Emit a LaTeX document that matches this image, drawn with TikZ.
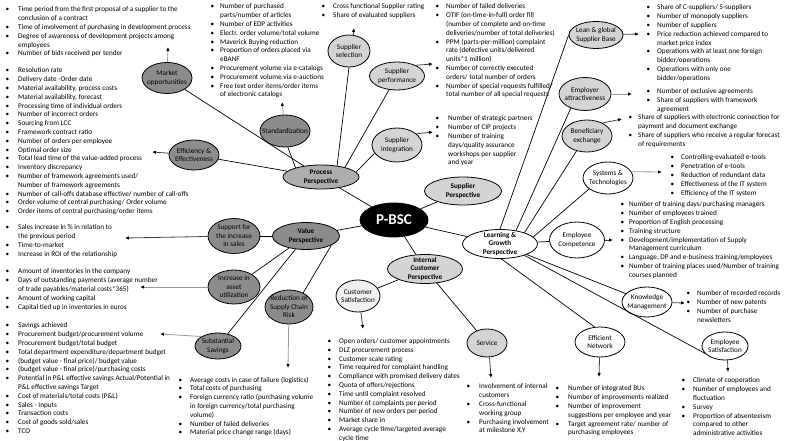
\documentclass[tikz,border=0pt]{standalone}
\usepackage{fontspec}
\setmainfont{Carlito}
\usetikzlibrary{shapes.geometric,arrows.meta}

\definecolor{bscdark}{gray}{0.55}
\definecolor{bscmid}{gray}{0.68}
\definecolor{bsclight}{gray}{0.83}
\definecolor{bscpale}{gray}{0.94}

\newlength{\kgap}
\newcommand{\kpi}{\makebox[\kgap][l]{\textbullet}}
\newcommand{\kcont}{\hspace*{\kgap}}

\tikzset{
    bub/.style 2 args={ellipse, draw, line width=0.8pt, inner sep=0pt, minimum width=#1pt, minimum height=#2pt},
    lbl/.style={align=center, inner sep=0pt, font=\fontsize{7.2}{8.5}\selectfont},
    lblb/.style={align=center, inner sep=0pt, font=\fontsize{7.2}{8.5}\selectfont\bfseries},
    conn/.style={line width=0.7pt},
    arr/.style={draw=black!75, line width=0.8pt, -{Latex[black,length=4pt,width=3.5pt]}},
    arrg/.style={arr, draw=black!40},
    kpis/.style={anchor=north west, align=left, inner sep=0pt, font=\fontsize{7.2}{8.8}\selectfont, execute at begin node={\global\kgap=#1\relax}},
    kpis/.default=12pt
}

\begin{document}
\begin{tikzpicture}[x=1pt, y=-1pt]
    \useasboundingbox (0,0) rectangle (789,441);

    \node[bub={50}{31}, fill=bscdark, label={[lbl]center:{Market\\opportunities}}] (mkt) at (167,78) {};
    \node[bub={50}{30}, fill=bscdark, label={[lbl]center:{Efficiency \&\\Effectiveness}}] (eff) at (194,155) {};
    \node[bub={50}{32}, fill=bscdark, label={[lbl]center:Standardization}] (std) at (285,131) {};
    \node[bub={42}{32}, fill=bsclight, label={[lbl]center:{Supplier\\selection}}] (ssel) at (349,51) {};
    \node[bub={55}{28}, fill=bsclight, label={[lbl]center:{Supplier\\performance}}] (sperf) at (397,76) {};
    \node[bub={50}{34}, fill=bsclight, label={[lbl]center:{Supplier\\integration}}] (sint) at (397,145) {};
    \node[bub={76}{24}, fill=bscmid, label={[lblb]center:{Process\\Perspective}}] (proc) at (321,177) {};
    \node[bub={68}{34}, fill=black, label={[lblb, text=white, font=\fontsize{15}{18}\selectfont\bfseries]center:P-BSC}] (pbsc) at (394,220) {};
    \node[bub={77}{28}, fill=bsclight, label={[lblb]center:{Supplier\\Perspective}}] (sper) at (463,191) {};
    \node[bub={67}{27}, fill=bscdark, label={[lblb]center:{Value\\Perspective}}] (val) at (306,236) {};
    \node[bub={52}{35}, fill=bscdark, label={[lbl]center:{Support for\\the increase\\in sales}}] (sup) at (234,236) {};
    \node[bub={52}{34}, fill=bscdark, label={[lbl]center:{Increase in\\asset\\utilization}}] (inc) at (234,287) {};
    \node[bub={48}{34}, fill=bscdark, label={[lbl]center:{Reduction of\\Supply Chain\\Risk}}] (red) at (289,307) {};
    \node[bub={46}{26}, fill=bscdark, label={[lbl]center:{Substantial\\Savings}}] (sav) at (218,346) {};
    \node[bub={75}{29}, fill=bsclight, label={[lblb]center:{Internal\\Customer\\Perspective}}] (icp) at (425,269) {};
    \node[bub={44}{32}, fill=bscpale, label={[lbl]center:{Customer\\Satisfaction}}] (cs) at (358,296) {};
    \node[bub={40}{28}, fill=bsclight, label={[lbl]center:Service}] (srv) at (487,343) {};
    \node[bub={75}{29}, fill=white, label={[lblb]center:{Learning \&\\Growth\\Perspective}}] (lg) at (500,244) {};
    \node[bub={54}{27}, fill=bsclight, label={[lbl]center:{Lean \& global\\Supplier Base}}] (lean) at (596,35) {};
    \node[bub={52}{33}, fill=bsclight, label={[lbl]center:{Employer\\attractiveness}}] (emp) at (585,94) {};
    \node[bub={50}{32}, fill=bsclight, label={[lbl]center:{Beneficiary\\exchange}}] (ben) at (587,136) {};
    \node[bub={50}{32}, fill=white, label={[lbl]center:{Systems \&\\Technologies}}] (sys) at (608,178) {};
    \node[bub={55}{36}, fill=white, label={[lbl]center:{Employee\\Competence}}] (ec) at (577,240) {};
    \node[bub={50}{30}, fill=white, label={[lbl]center:{Knowledge\\Management}}] (km) at (647,302) {};
    \node[bub={46}{28}, fill=white, label={[lbl]center:{Employee\\Satisfaction}}] (es) at (725,346) {};
    \node[bub={50}{30}, fill=white, label={[lbl]center:{Efficient\\Network}}] (en) at (600,342) {};

    \draw[conn] (proc) -- (mkt);
    \draw[conn] (proc) -- (eff);
    \draw[conn] (std.-80) -- (proc.160);
    \draw[conn] (ssel.-90) -- (proc.35);
    \draw[conn] (sperf.-120) -- (proc.22);
    \draw[conn] (sint.200) -- (proc.8);
    \draw[conn] (proc) -- (pbsc);
    \draw[conn] (pbsc) -- (sper);
    \draw[conn] (pbsc) -- (val);
    \draw[conn] (pbsc) -- (icp);
    \draw[conn] (pbsc) -- (lg);
    \draw[conn] (val) -- (sup);
    \draw[conn] (val) -- (inc);
    \draw[conn] (val) -- (sav);
    \draw[conn] (val.-20) -- (red.45);
    \draw[conn] (icp) -- (cs);
    \draw[conn] (icp) -- (srv);
    \draw[conn] (lg.north) -- (lean.west);
    \draw[conn] (lg.40) -- (emp.225);
    \draw[conn] (lg.25) -- (ben.235);
    \draw[conn] (lg.12) -- (sys.210);
    \draw[conn] (lg) -- (ec);
    \draw[conn] (lg) -- (km);
    \draw[conn] (lg.-25) -- (es.200);
    \draw[conn] (lg.-85) -- (en.110);

    \coordinate (mktT) at (168,47);
    \coordinate (effT) at (152,152);
    \coordinate (stdT) at (282,102);
    \coordinate (sselT) at (354,28);
    \coordinate (sperfT) at (433,64);
    \coordinate (sintT) at (433,132);
    \coordinate (supT) at (125,238);
    \coordinate (incT) at (140,287);
    \coordinate (savT) at (160,334);
    \coordinate (redT) at (288,368);
    \coordinate (csT) at (363,329);
    \coordinate (srvT) at (491,378);
    \coordinate (enT) at (599,377);
    \coordinate (esT) at (728,372);
    \coordinate (kmT) at (685,303);
    \coordinate (ecT) at (613,240);
    \coordinate (sysT) at (662,172);
    \coordinate (benT) at (622,119);
    \coordinate (empT) at (632,94);
    \coordinate (leanT) at (639,34);

    \draw[arrg] (mkt) -- (mktT);
    \draw[arr] (eff) -- (effT);
    \draw[arrg] (std) -- (stdT);
    \draw[arr] (ssel.75) -- (sselT);
    \draw[arr] (sperf.30) -- (sperfT);
    \draw[arr] (sint.30) -- (sintT);
    \draw[arr] (sup) -- (supT);
    \draw[arrg] (inc) -- (incT);
    \draw[arrg] (sav.150) -- (savT);
    \draw[arrg] (red) -- (redT);
    \draw[arr] (cs.-80) -- (csT);
    \draw[arr] (srv.-80) -- (srvT);
    \draw[arr] (en) -- (enT);
    \draw[arr] (es.-80) -- (esT);
    \draw[arr] (km) -- (kmT);
    \draw[arr] (ec) -- (ecT);
    \draw[arrg] (sys.15) -- (sysT);
    \draw[arr] (ben.40) -- (benT);
    \draw[arrg] (emp) -- (empT);
    \draw[arr] (lean) -- (leanT);

    \node[kpis=12.5pt] (mktL) at (5.5,6.7) {\kpi Time period from the first proposal of a supplier to the\\ \kcont conclusion of a contract\\ \kpi Time of involvement of purchasing in development process\\ \kpi Degree of awareness of development projects among\\ \kcont employees\\ \kpi Number of bids received per tender};
    \node[kpis=12.5pt] (effL) at (5.5,67.7) {\kpi Resolution rate\\ \kpi Delivery date -Order date\\ \kpi Material availability, process costs\\ \kpi Material availability, forecast\\ \kpi Processing time of individual orders\\ \kpi Number of incorrect orders\\ \kpi Sourcing from LCC\\ \kpi Framework contract ratio\\ \kpi Number of orders per employee\\ \kpi Optimal order size\\ \kpi Total lead time of the value-added process\\ \kpi Inventory discrepancy\\ \kpi Number of framework agreements used/\\ \kcont Number of framework agreements\\ \kpi Number of call-offs database effective/ number of call-offs\\ \kpi Order volume of central purchasing/ Order volume\\ \kpi Order items of central purchasing/order items};
    \node[kpis=12.5pt] (supL) at (5.5,224.7) {\kpi Sales increase in \% in relation to\\ \kcont the previous period\\ \kpi Time-to-market\\ \kpi Increase in ROI of the relationship};
    \node[kpis=12.5pt] (incL) at (5.5,268.7) {\kpi Amount of inventories in the company\\ \kpi Days of outstanding payments (average number\\ \kcont of trade payables/material costs*365)\\ \kpi Amount of working capital\\ \kpi Capital tied up in inventories in euros};
    \node[kpis=12.5pt] (savL) at (5.5,322.7) {\kpi Savings achieved\\ \kpi Procurement budget/procurement volume\\ \kpi Procurement budget/total budget\\ \kpi Total department expenditure/department budget\\ \kpi (budget value - final price)/ budget value\\ \kpi (budget value - final price)/purchasing costs\\ \kpi Potential in P\&L effective savings Actual/Potential in\\ \kcont P\&L effective savings Target\\ \kpi Cost of materials/total costs (P\&L)\\ \kpi Sales - Inputs\\ \kpi Transaction costs\\ \kpi Cost of goods sold/sales\\ \kpi TCO};
    \node[kpis=11.5pt] (redL) at (178.5,376.7) {\kpi Average costs in case of failure (logistics)\\ \kpi Total costs of purchasing\\ \kpi Foreign currency ratio (purchasing volume\\ \kcont in foreign currency/total purchasing\\ \kcont volume)\\ \kpi Number of failed deliveries\\ \kpi Material price change range (days)};
    \node[kpis=9.5pt] (stdL) at (210.5,3.7) {\kpi Number of purchased\\ \kcont parts/number of articles\\ \kpi Number of EDP activities\\ \kpi Electr. order volume/total volume\\ \kpi Maverick Buying reduction\\ \kpi Proportion of orders placed via\\ \kcont eBANF\\ \kpi Procurement volume via e-catalogs\\ \kpi Procurement volume via e-auctions\\ \kpi Free text order items/order items\\ \kcont of electronic catalogs};
    \node[kpis=11.5pt] (sselL) at (321.5,3.7) {\kpi Cross functional Supplier rating\\ \kpi Share of evaluated suppliers};
    \node[kpis=10.5pt] (sperfL) at (435.5,3.7) {\kpi Number of failed deliveries\\ \kpi OTIF (on-time-in-full) order fill\\ \kcont (number of complete and on-time\\ \kcont deliveries/number of total deliveries)\\ \kpi PPM (parts-per-million) complaint\\ \kcont rate (defective units/delivered\\ \kcont units*1 million)\\ \kpi Number of correctly executed\\ \kcont orders/ total number of orders\\ \kpi Number of special requests fulfilled/\\ \kcont total number of all special requests};
    \node[kpis=12.5pt] (sintL) at (435.5,115.7) {\kpi Number of strategic partners\\ \kpi Number of CIP projects\\ \kpi Number of training\\ \kcont days/quality assurance\\ \kcont workshops per supplier\\ \kcont and year};
    \node[kpis=11.5pt] (csL) at (327.5,338.2) {\kpi Open orders/ customer appointments\\ \kpi DLZ procurement process\\ \kpi Customer scale rating\\ \kpi Time required for complaint handling\\ \kpi Compliance with promised delivery dates\\ \kpi Quota of offers/rejections\\ \kpi Time until complaint resolved\\ \kpi Number of complaints per period\\ \kpi Number of new orders per period\\ \kpi Market share in\\ \kpi Average cycle time/targeted average\\ \kcont cycle time};
    \node[kpis=12.5pt] (srvL) at (466.5,383.7) {\kpi Involvement of internal\\ \kcont customers\\ \kpi Cross-functional\\ \kcont working group\\ \kpi Purchasing involvement\\ \kcont at milestone X,Y};
    \node[kpis=12.5pt] (enL) at (555.5,385.7) {\kpi Number of integrated BUs\\ \kpi Number of improvements realized\\ \kpi Number of improvement\\ \kcont suggestions per employee and year\\ \kpi Target agreement rate/ number of\\ \kcont purchasing employees};
    \node[kpis=11.5pt] (esL) at (681.5,377.7) {\kpi Climate of cooperation\\ \kpi Number of employees and\\ \kcont fluctuation\\ \kpi Survey\\ \kpi Proportion of absenteeism\\ \kcont compared to other\\ \kcont administrative activities};
    \node[kpis=10.5pt] (kmL) at (686.5,290.7) {\kpi Number of recorded records\\ \kpi Number of new patents\\ \kpi Number of purchase\\ \kcont newsletters};
    \node[kpis=8.5pt] (ecL) at (620.5,201.7) {\kpi Number of training days/purchasing managers\\ \kpi Number of employees trained\\ \kpi Proportion of English processing\\ \kpi Training structure\\ \kpi Development/implementation of Supply\\ \kcont Management curriculum\\ \kpi Language, DP and e-business training/employees\\ \kpi Number of training places used/Number of training\\ \kcont courses planned};
    \node[kpis=10.5pt] (sysL) at (670.5,154.7) {\kpi Controlling-evaluated e-tools\\ \kpi Penetration of e-tools\\ \kpi Reduction of redundant data\\ \kpi Effectiveness of the IT system\\ \kpi Efficiency of the IT system};
    \node[kpis=9.5pt] (benL) at (628.5,114.7) {\kpi Share of suppliers with electronic connection for\\ \kcont payment and document exchange\\ \kpi Share of suppliers who receive a regular forecast\\ \kcont of requirements};
    \node[kpis=10.5pt] (empL) at (646.5,88.7) {\kpi Number of exclusive agreements\\ \kpi Share of suppliers with framework\\ \kcont agreement};
    \node[kpis=10.5pt] (leanL) at (646.5,4.7) {\kpi Share of C-suppliers/ S-suppliers\\ \kpi Number of monopoly suppliers\\ \kpi Number of suppliers\\ \kpi Price reduction achieved compared to\\ \kcont market price index\\ \kpi Operations with at least one foreign\\ \kcont bidder/operations\\ \kpi Operations with only one\\ \kcont bidder/operations};
\end{tikzpicture}
\end{document}
